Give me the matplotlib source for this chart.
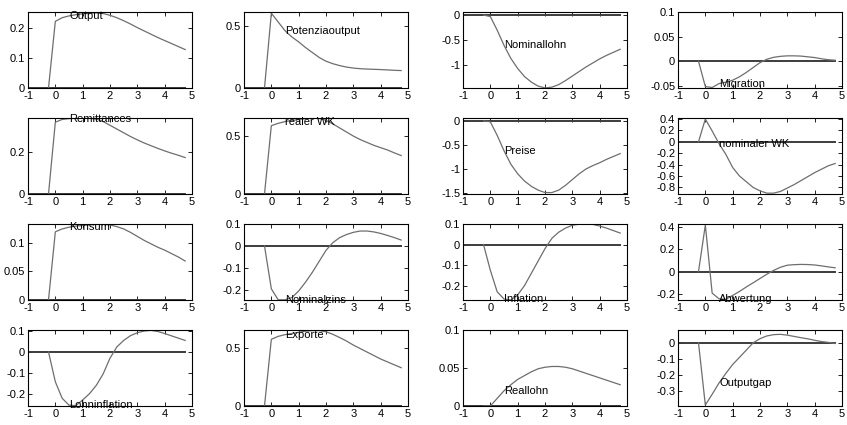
import numpy as np
from matplotlib import pyplot as plt
from matplotlib.ticker import FuncFormatter

# quarters after the shock
t = [-0.25, 0, 0.25, 0.5, 0.75, 1, 1.25, 1.5, 1.75, 2, 2.25, 2.5, 2.75,
     3, 3.25, 3.5, 3.75, 4, 4.25, 4.5, 4.75]

output = [0, 0.222, 0.234, 0.240, 0.244, 0.247, 0.249, 0.25, 0.248, 0.242, 0.234,
          0.224, 0.213, 0.201, 0.19, 0.179, 0.168, 0.158, 0.148, 0.138, 0.128]
potential = [0, 0.6, 0.53, 0.46, 0.41, 0.37, 0.325, 0.285, 0.245, 0.215, 0.195,
             0.18, 0.168, 0.16, 0.155, 0.152, 0.15, 0.148, 0.145, 0.142, 0.14]
nominal_wage = [0, -0.03, -0.3, -0.6, -0.86, -1.06, -1.22, -1.33, -1.41, -1.445, -1.43,
                -1.38, -1.3, -1.21, -1.12, -1.03, -0.95, -0.87, -0.8, -0.74, -0.68]
migration = [0, -0.052, -0.054, -0.046, -0.043, -0.039, -0.032, -0.023, -0.013, -0.003, 0.004,
             0.008, 0.010, 0.011, 0.011, 0.0105, 0.009, 0.0075, 0.005, 0.003, 0.002]
remittances = [0, 0.345, 0.358, 0.362, 0.364, 0.365, 0.364, 0.36, 0.348, 0.33, 0.312,
               0.294, 0.276, 0.26, 0.245, 0.232, 0.219, 0.207, 0.196, 0.186, 0.175]
real_er = [0, 0.59, 0.61, 0.625, 0.635, 0.643, 0.65, 0.655, 0.652, 0.636, 0.605,
           0.57, 0.535, 0.5, 0.47, 0.445, 0.42, 0.4, 0.38, 0.355, 0.332]
prices = [0, -0.02, -0.3, -0.62, -0.9, -1.1, -1.25, -1.36, -1.44, -1.49, -1.49,
          -1.44, -1.34, -1.22, -1.1, -1.0, -0.93, -0.87, -0.8, -0.74, -0.68]
nominal_er = [0, 0.4, 0.19, -0.03, -0.22, -0.45, -0.6, -0.7, -0.8, -0.86, -0.9,
              -0.9, -0.87, -0.81, -0.75, -0.68, -0.61, -0.54, -0.48, -0.42, -0.38]
consumption = [0, 0.119, 0.124, 0.127, 0.129, 0.13, 0.131, 0.132, 0.132, 0.131, 0.128,
               0.124, 0.118, 0.111, 0.104, 0.098, 0.092, 0.087, 0.081, 0.075, 0.068]
nominal_rate = [0, -0.195, -0.245, -0.245, -0.235, -0.205, -0.165, -0.12, -0.07, -0.02, 0.015,
                0.038, 0.052, 0.062, 0.068, 0.068, 0.064, 0.057, 0.048, 0.038, 0.027]
inflation = [0, -0.125, -0.23, -0.265, -0.27, -0.245, -0.2, -0.14, -0.08, -0.02, 0.03,
             0.06, 0.08, 0.094, 0.099, 0.1, 0.098, 0.09, 0.08, 0.068, 0.056]
devaluation = [0, 0.415, -0.19, -0.24, -0.245, -0.21, -0.175, -0.135, -0.098, -0.06, -0.022,
               0.012, 0.04, 0.058, 0.063, 0.065, 0.064, 0.06, 0.052, 0.043, 0.035]
wage_inflation = [0, -0.143, -0.222, -0.255, -0.257, -0.23, -0.2, -0.16, -0.105, -0.03, 0.024,
                  0.055, 0.078, 0.092, 0.1, 0.103, 0.098, 0.088, 0.077, 0.066, 0.055]
exports = [0, 0.575, 0.6, 0.615, 0.625, 0.635, 0.645, 0.65, 0.65, 0.64, 0.618,
           0.59, 0.56, 0.525, 0.495, 0.465, 0.435, 0.405, 0.38, 0.355, 0.33]
real_wage = [0, 0.0, 0.01, 0.02, 0.028, 0.035, 0.04, 0.045, 0.049, 0.051, 0.052,
             0.052, 0.051, 0.049, 0.046, 0.043, 0.04, 0.037, 0.034, 0.031, 0.028]
output_gap = [0, -0.387, -0.32, -0.25, -0.19, -0.135, -0.09, -0.045, 0.0, 0.026, 0.043,
              0.051, 0.053, 0.048, 0.04, 0.032, 0.025, 0.016, 0.008, 0.003, -0.004]

x_ticks = [-1, 0, 1, 2, 3, 4, 5]

# name, series, y limits, y ticks (row by row)
panels = [
    ('Output', output, (0, 0.253), [0, 0.1, 0.2]),
    ('Potenziaoutput', potential, (0, 0.61), [0, 0.5]),
    ('Nominallohn', nominal_wage, (-1.447, 0.06), [-1, -0.5, 0]),
    ('Migration', migration, (-0.055, 0.101), [-0.05, 0, 0.05, 0.1]),
    ('Remittances', remittances, (0, 0.365), [0, 0.2]),
    ('realer WK', real_er, (0, 0.656), [0, 0.5]),
    ('Preise', prices, (-1.52, 0.06), [-1.5, -1, -0.5, 0]),
    ('nominaler WK', nominal_er, (-0.915, 0.418), [-0.8, -0.6, -0.4, -0.2, 0, 0.2, 0.4]),
    ('Konsum', consumption, (0, 0.1326), [0, 0.05, 0.1]),
    ('Nominalzins', nominal_rate, (-0.246, 0.1), [-0.2, -0.1, 0, 0.1]),
    ('Inflation', inflation, (-0.27, 0.1), [-0.2, -0.1, 0, 0.1]),
    ('Abwertung', devaluation, (-0.251, 0.424), [-0.2, 0, 0.2, 0.4]),
    ('Lohninflation', wage_inflation, (-0.259, 0.105), [-0.2, -0.1, 0, 0.1]),
    ('Exporte', exports, (0, 0.655), [0, 0.5]),
    ('Reallohn', real_wage, (0, 0.1), [0, 0.05, 0.1]),
    ('Outputgap', output_gap, (-0.393, 0.08), [-0.3, -0.2, -0.1, 0]),
]

plt.rcParams['font.family'] = ['Liberation Sans', 'DejaVu Sans']
plt.rcParams['font.size'] = 8

W, H = 847, 425
col_left = [28, 244, 463, 678]
row_top = [12, 118, 224, 330]
ax_w, ax_h = 164, 76

fmt = FuncFormatter(lambda v, pos: f'{v:g}')

fig = plt.figure(figsize=(W / 100, H / 100), dpi=100)
for k, (name, series, ylim, yticks) in enumerate(panels):
    r, c = divmod(k, 4)
    ax = fig.add_axes([col_left[c] / W, 1 - (row_top[r] + ax_h) / H, ax_w / W, ax_h / H])
    ax.plot([-1, t[-1]], [0, 0], color='#3c3c3c', lw=1.4)
    ax.plot(t, series, color='#6e6e6e', lw=0.9)
    ax.set_xlim(-1, 5)
    ax.set_ylim(*ylim)
    ax.set_xticks(x_ticks)
    ax.set_yticks(yticks)
    ax.xaxis.set_major_formatter(fmt)
    ax.yaxis.set_major_formatter(fmt)
    ax.tick_params(direction='in', top=True, right=True, length=3, width=0.6, pad=2)
    for s in ax.spines.values():
        s.set_linewidth(0.8)
    # series name sits on the curve at t = 0.5
    i = t.index(0.5)
    ax.text(0.5, series[i], name, ha='left', va='center', clip_on=False)

fig.savefig('out.png', dpi=100)
